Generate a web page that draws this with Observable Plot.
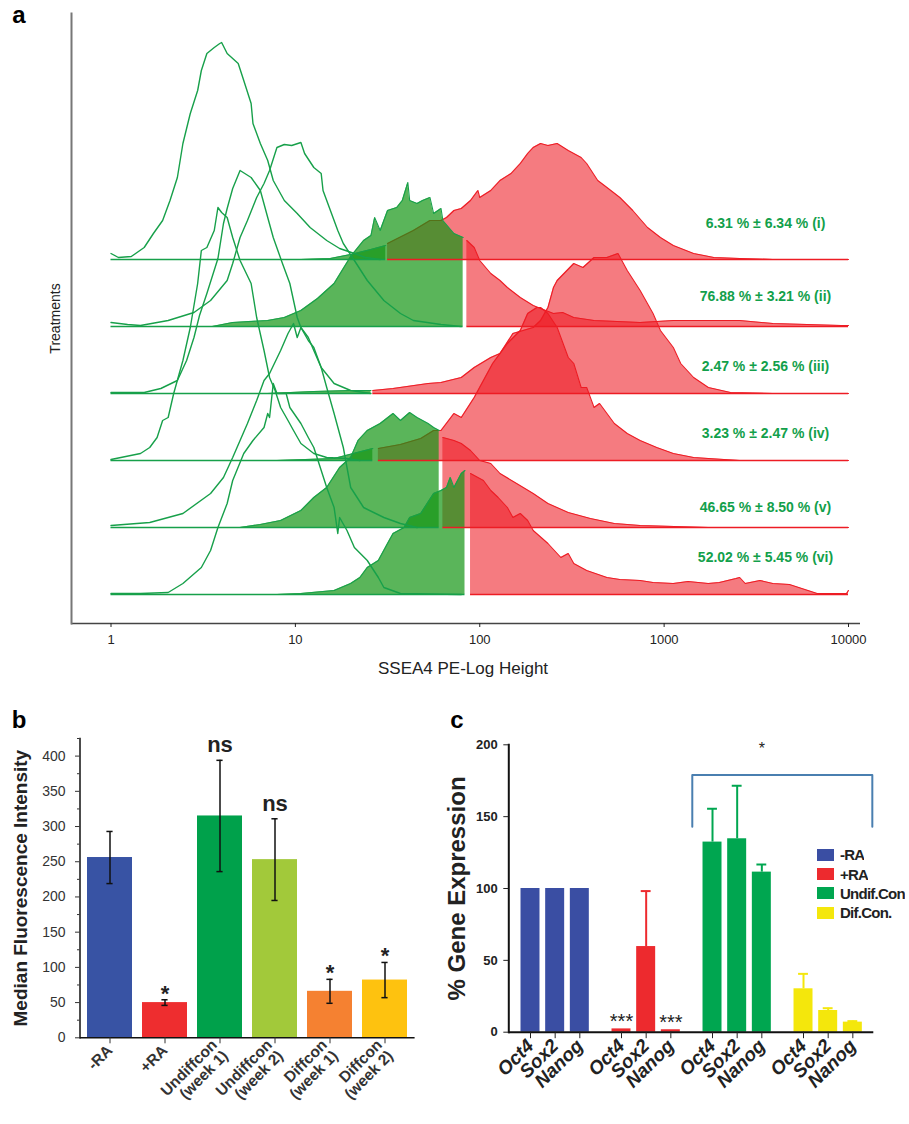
<!DOCTYPE html>
<html><head><meta charset="utf-8">
<script src="https://cdn.jsdelivr.net/npm/d3@7"></script>
<script src="https://cdn.jsdelivr.net/npm/@observablehq/plot@0.6"></script>
<style>
body{margin:0;background:#fff;}
#fig{position:relative;width:909px;height:1124px;background:#fff;overflow:hidden;font-family:Arial,"Liberation Sans",sans-serif;}
#fig > svg, #fig > div{position:absolute;}
#fig .lgc-swatch{font-weight:bold;color:#222;height:19.4px;margin:0;padding:0;}
#fig .lgc-swatch > svg{margin-right:6px !important;}
</style></head><body><div id="fig"></div>
<script>
// ---------------- Panel a: SSEA4 flow histograms (x = log10 intensity, y = events) ----------------
const xTicksA = [1, 10, 100, 1000, 10000];
const rowNames = ["(i)", "(ii)", "(iii)", "(iv)", "(v)", "(vi)"];
const pctText = ["6.31 % ± 6.34 %", "76.88 % ± 3.21 %", "2.47 % ± 2.56 %", "3.23 % ± 2.47 %", "46.65 % ± 8.50 %", "52.02 % ± 5.45 %"];

// control (unstained) histograms, [log10 intensity, events]
const ctrlI = [[0.00,6],[0.04,2],[0.11,3],[0.18,12],[0.23,26],[0.28,39],[0.32,59],[0.36,82],[0.39,116],[0.43,146],[0.47,169],[0.49,189],[0.52,206],[0.56,212],[0.59,216],[0.60,217],[0.63,206],[0.69,196],[0.72,179],[0.76,156],[0.77,136],[0.81,116],[0.85,99],[0.88,79],[0.94,59],[1.01,46],[1.08,32],[1.17,19],[1.24,11],[1.32,6],[1.38,2],[1.46,0]];
const ctrlII = [[0.00,4],[0.09,2],[0.16,1],[0.31,6],[0.45,14],[0.54,26],[0.63,46],[0.66,63],[0.70,89],[0.74,106],[0.79,129],[0.83,143],[0.86,156],[0.90,179],[0.94,182],[0.98,181],[1.03,184],[1.05,173],[1.10,159],[1.14,153],[1.15,136],[1.19,116],[1.23,96],[1.26,83],[1.32,66],[1.39,46],[1.48,26],[1.57,13],[1.64,6],[1.79,2],[1.90,0]];
const ctrlIII = [[0.00,1],[0.18,1],[0.27,5],[0.36,13],[0.41,33],[0.45,56],[0.48,78],[0.52,100],[0.58,135],[0.61,170],[0.63,185],[0.66,205],[0.70,223],[0.76,216],[0.81,203],[0.85,176],[0.88,156],[0.93,130],[0.97,110],[1.01,76],[1.03,66],[1.07,56],[1.10,43],[1.14,26],[1.21,10],[1.30,3],[1.41,0]];
const ctrlIV = [[0.00,1],[0.16,7],[0.21,13],[0.25,23],[0.28,40],[0.31,43],[0.34,67],[0.39,100],[0.43,133],[0.47,177],[0.49,210],[0.52,213],[0.56,230],[0.58,253],[0.60,248],[0.63,243],[0.66,223],[0.70,200],[0.76,177],[0.79,143],[0.83,110],[0.86,83],[0.89,70],[0.92,53],[0.96,40],[0.99,30],[1.03,17],[1.10,7],[1.17,3],[1.28,2],[1.35,0]];
const ctrlV = [[0.00,2],[0.21,5],[0.39,14],[0.54,34],[0.61,50],[0.66,70],[0.70,87],[0.74,104],[0.79,127],[0.83,147],[0.86,154],[0.92,177],[0.96,194],[0.99,204],[1.01,190],[1.03,200],[1.07,187],[1.10,180],[1.14,160],[1.17,140],[1.21,114],[1.26,80],[1.30,40],[1.37,20],[1.48,10],[1.57,4],[1.66,0]];
const ctrlVI = [[0.00,1],[0.16,1],[0.31,2],[0.39,11],[0.49,27],[0.54,44],[0.58,67],[0.63,91],[0.66,114],[0.72,141],[0.77,154],[0.83,167],[0.85,181],[0.86,177],[0.88,211],[0.90,201],[0.95,201],[0.97,187],[1.03,171],[1.07,157],[1.10,147],[1.17,107],[1.21,87],[1.23,61],[1.24,77],[1.28,64],[1.32,47],[1.39,34],[1.45,17],[1.48,7],[1.57,1],[1.90,0]];

// stained samples: SSEA4-negative part (green) and SSEA4-positive part (red)
const greenI = [[1.03,0],[1.19,1],[1.30,5],[1.41,10],[1.49,14]];
const redI = [[1.50,16],[1.64,29],[1.73,39],[1.79,39],[1.82,42],[1.86,49],[1.90,51],[1.95,59],[1.99,69],[2.00,62],[2.06,69],[2.11,79],[2.17,86],[2.22,96],[2.26,106],[2.29,112],[2.33,116],[2.37,114],[2.42,116],[2.48,109],[2.55,102],[2.58,96],[2.64,79],[2.69,72],[2.76,62],[2.83,49],[2.91,32],[2.98,22],[3.05,14],[3.16,6],[3.27,2],[3.41,1],[3.59,0],[4.00,0]];
const greenII = [[0.55,0],[0.66,4],[0.85,6],[0.94,9],[1.03,16],[1.12,28],[1.21,43],[1.30,70],[1.37,86],[1.41,91],[1.43,109],[1.46,96],[1.50,116],[1.55,119],[1.58,126],[1.61,144],[1.62,126],[1.66,123],[1.69,126],[1.73,129],[1.75,113],[1.79,118],[1.80,106],[1.86,93],[1.91,89]];
const redII = [[1.93,86],[1.97,79],[2.00,66],[2.06,53],[2.11,46],[2.15,39],[2.22,29],[2.29,21],[2.33,18],[2.40,13],[2.45,14],[2.51,9],[2.62,6],[2.87,4],[3.05,6],[3.41,6],[3.59,3],[3.96,1],[4.00,1]];
const greenIII = [[0.85,0],[1.10,2],[1.30,3],[1.41,3]];
const redIII = [[1.42,3],[1.53,5],[1.72,10],[1.79,11],[1.90,16],[1.97,26],[2.06,36],[2.11,40],[2.18,60],[2.29,66],[2.33,73],[2.37,86],[2.40,106],[2.42,113],[2.51,130],[2.56,126],[2.62,136],[2.69,136],[2.75,140],[2.80,123],[2.87,103],[2.94,80],[2.98,63],[3.05,46],[3.09,30],[3.16,16],[3.24,6],[3.36,1],[3.59,0],[4.00,0]];
const greenIV = [[0.90,0],[1.21,2],[1.42,12]];
const redIV = [[1.45,12],[1.57,16],[1.68,22],[1.75,30],[1.79,30],[1.86,47],[1.90,43],[1.97,63],[2.02,80],[2.07,97],[2.15,117],[2.22,130],[2.26,147],[2.31,153],[2.33,153],[2.37,147],[2.42,133],[2.48,103],[2.51,97],[2.55,73],[2.58,73],[2.62,53],[2.65,57],[2.73,37],[2.80,27],[2.87,20],[2.96,13],[3.05,7],[3.16,3],[3.24,2],[3.41,0],[4.00,0]];
const greenV = [[0.70,0],[0.81,3],[0.92,7],[1.03,17],[1.10,30],[1.17,40],[1.24,60],[1.30,70],[1.34,87],[1.39,97],[1.46,104],[1.53,114],[1.57,107],[1.62,115],[1.66,110],[1.72,104],[1.75,100],[1.78,97]];
const redV = [[1.80,90],[1.86,87],[1.90,84],[1.95,77],[2.00,67],[2.06,64],[2.11,54],[2.20,44],[2.29,34],[2.37,24],[2.48,15],[2.60,9],[2.73,4],[2.87,2],[3.24,0],[4.00,0]];
const greenVI = [[0.90,0],[1.03,1],[1.21,4],[1.30,11],[1.35,17],[1.39,27],[1.45,34],[1.50,51],[1.53,61],[1.59,67],[1.62,77],[1.68,81],[1.75,101],[1.79,104],[1.82,107],[1.84,117],[1.86,107],[1.90,121],[1.92,124]];
const redVI = [[1.95,121],[1.99,117],[2.02,114],[2.06,104],[2.10,97],[2.15,87],[2.18,77],[2.22,81],[2.26,74],[2.29,64],[2.37,51],[2.44,37],[2.48,41],[2.51,31],[2.58,24],[2.69,17],[2.76,15],[2.87,14],[2.94,12],[3.05,11],[3.13,13],[3.24,11],[3.30,12],[3.39,16],[3.41,17],[3.44,11],[3.52,14],[3.59,11],[3.68,10],[3.78,4],[3.83,1],[3.99,1],[4.00,4]];

// ---------------- Panel b: median fluorescence intensity ----------------
const bCats = ["-RA", "+RA", "Undiffcon\n(week 1)", "Undiffcon\n(week 2)", "Diffcon\n(week 1)", "Diffcon\n(week 2)"];
const bValues = [256, 50, 315, 253, 66, 82];
const bErrors = [37, 4, 79, 58, 17, 25];
const bSignif = ["", "*", "ns", "ns", "*", "*"];
const bColors = ["#3853a4", "#ee2d2f", "#00a14b", "#a2c93a", "#f58131", "#fec20f"];
const bTicks = [0, 50, 100, 150, 200, 250, 300, 350, 400];
const bMinorTicks = [25, 75, 125, 175, 225, 275, 325, 375, 425];

// ---------------- Panel c: % gene expression ----------------
const cGroups = ["-RA", "+RA", "Undif.Con", "Dif.Con."];
const cGenes = ["Oct4", "Sox2", "Nanog"];
const cMinusRA = [100, 100, 100];
const cPlusRA = [2.3, 59.6, 1.7];
const cUndif = [132.3, 134.6, 111.4];
const cDif = [30.2, 15.1, 7.0];
const cErrMinusRA = [0, 0, 0];
const cErrPlusRA = [0, 38.6, 0];
const cErrUndif = [23.2, 36.9, 5.3];
const cErrDif = [10.4, 1.6, 0.7];
const cColors = ["#3a4ea3", "#ed2a2e", "#00a650", "#f4e70c"];
const cTicks = [0, 50, 100, 150, 200];
const cStars = [{group: "+RA", gene: "Oct4", text: "***"}, {group: "+RA", gene: "Nanog", text: "***"}];
const cBracket = {from: ["Undif.Con", "Oct4"], to: ["Dif.Con.", "Nanog"], low: 143, high: 179, text: "*"};

// ================= drawing =================
const fig = document.getElementById("fig");
const FONT = 'Arial, "Liberation Sans", sans-serif';

// ---- panel a ----
const ROW_STEP = 67, FIRST_BASE = 29;               // layout of the stacked rows
const LABEL_LIFT = [36, 30, 27, 27, 20, 37];
const base = k => FIRST_BASE + (5 - k) * ROW_STEP;
const ctrls = [ctrlI, ctrlII, ctrlIII, ctrlIV, ctrlV, ctrlVI];
const greens = [greenI, greenII, greenIII, greenIV, greenV, greenVI];
const reds = [redI, redII, redIII, redIV, redV, redVI];
const toPts = (arr, k) => arr.map(([lg, h]) => ({row: k, x: 10 ** lg, y1: base(k), y2: base(k) + h}));
const ctrlPts = ctrls.flatMap(toPts);
const greenPts = greens.flatMap(toPts);
const redPts = reds.flatMap(toPts);
const rowsA = rowNames.map((r, k) => ({k, y: base(k), gEnd: 10 ** greens[k].at(-1)[0], rStart: 10 ** reds[k][0][0]}));

const RED = "#ed1c24", GREEN_FILL = "rgb(20,150,20)", GREEN_LINE = "#17a04a";
const plotA = Plot.plot({
  width: 909, height: 690,
  marginTop: 13, marginBottom: 67, marginLeft: 71, marginRight: 49,
  x: {type: "log", domain: [1, 10000], range: [110.5, 848], axis: null},
  y: {domain: [0, 610], axis: null},
  style: {fontFamily: FONT, background: "transparent", overflow: "visible"},
  marks: [
    Plot.areaY(redPts, {x: "x", y1: "y1", y2: "y2", z: "row", fill: RED, fillOpacity: 0.58}),
    Plot.line(redPts, {x: "x", y: "y2", z: "row", stroke: RED, strokeWidth: 1.1}),
    Plot.areaY(greenPts, {x: "x", y1: "y1", y2: "y2", z: "row", fill: GREEN_FILL, fillOpacity: 0.7}),
    Plot.line(greenPts, {x: "x", y: "y2", z: "row", stroke: GREEN_LINE, strokeWidth: 1.1}),
    Plot.ruleY(rowsA, {y: "y", x1: () => 1, x2: "gEnd", stroke: GREEN_LINE, strokeWidth: 1.5}),
    Plot.ruleY(rowsA, {y: "y", x1: "rStart", x2: () => 10000, stroke: RED, strokeWidth: 1.5}),
    Plot.line(ctrlPts, {x: "x", y: "y2", z: "row", stroke: GREEN_LINE, strokeWidth: 1.4}),
    Plot.text(rowsA, {y: d => d.y + LABEL_LIFT[d.k], text: d => pctText[d.k] + " " + rowNames[d.k],
      frameAnchor: "right", dx: -95, textAnchor: "middle", lineAnchor: "middle",
      fontWeight: "bold", fontSize: 14, fill: "#12a04b", ariaLabel: "pct-labels"}),
    Plot.ruleY([0], {stroke: "#444", strokeWidth: 1.5}),
    Plot.frame({anchor: "left", stroke: "#777", strokeWidth: 2}),
    Plot.axisX({ticks: xTicksA, tickFormat: d => String(d), tickSize: 4, tickPadding: 7, fontSize: 13, color: "#222", label: null}),
    Plot.text(["SSEA4 PE-Log Height"], {text: d => d, frameAnchor: "bottom", textAnchor: "middle", dx: -3, dy: 45, fontSize: 17, lineAnchor: "middle", fill: "#222"}),
    Plot.text(["Treatments"], {text: d => d, frameAnchor: "left", textAnchor: "middle", rotate: -90, dx: -16, fontSize: 14, lineAnchor: "middle", fill: "#222"}),
    Plot.text(["a"], {text: d => d, frameAnchor: "top-left", textAnchor: "middle", dx: -52.5, dy: 2, fontSize: 24, fontWeight: "bold", lineAnchor: "middle"})
  ]
});
plotA.style.left = "0px"; plotA.style.top = "0px";
plotA.querySelectorAll('g[aria-label="pct-labels"] text').forEach((t, i) => {
  t.textContent = "";
  const ns = "http://www.w3.org/2000/svg";
  const a = document.createElementNS(ns, "tspan"); a.textContent = pctText[i] + " "; a.setAttribute("fill", "#12a04b");
  const b = document.createElementNS(ns, "tspan"); b.textContent = rowNames[i]; b.setAttribute("fill", "#3c3c3c");
  t.appendChild(a); t.appendChild(b);
});
fig.appendChild(plotA);

// ---- panel b ----
const bData = bCats.map((c, i) => ({cat: c, value: bValues[i], err: bErrors[i], sig: bSignif[i]}));
const plotB = Plot.plot({
  width: 440, height: 444,
  marginTop: 58, marginBottom: 86.7, marginLeft: 79.5, marginRight: 25.4,
  x: {domain: bCats, paddingInner: 0.18, paddingOuter: 0.09, axis: null},
  y: {domain: [0, 425], axis: null},
  color: {domain: bCats, range: bColors},
  style: {fontFamily: FONT, background: "transparent", overflow: "visible"},
  marks: [
    Plot.barY(bData, {x: "cat", y: "value", fill: "cat"}),
    Plot.ruleX(bData, {x: "cat", y1: d => d.value - d.err, y2: d => d.value + d.err, stroke: "#111", strokeWidth: 1.5}),
    Plot.tickY(bData, {x: "cat", y: d => d.value + d.err, insetLeft: 19.4, insetRight: 19.4, stroke: "#111", strokeWidth: 1.5}),
    Plot.tickY(bData, {x: "cat", y: d => d.value - d.err, insetLeft: 19.4, insetRight: 19.4, stroke: "#111", strokeWidth: 1.5}),
    Plot.text(bData.filter(d => d.sig === "*"), {x: "cat", y: d => d.value + d.err, text: "sig", dy: -6, fontSize: 22, fontWeight: "bold", lineAnchor: "middle", fill: "#222"}),
    Plot.text(bData.filter(d => d.sig === "ns"), {x: "cat", y: d => d.value + d.err, text: "sig", dy: -15, fontSize: 22, fontWeight: "bold", lineAnchor: "middle", fill: "#222"}),
    Plot.ruleY([0], {stroke: "#111", strokeWidth: 1.5}),
    Plot.frame({anchor: "left", stroke: "#111", strokeWidth: 1.5}),
    Plot.axisY({ticks: bTicks, tickSize: 4.5, tickPadding: 10, fontSize: 14, color: "#333", label: null}),
    Plot.axisY({ticks: bMinorTicks, tickSize: 2.5, fill: "none", stroke: "#333", label: null}),
    Plot.axisX({tickRotate: -45, tickSize: 6, tickPadding: 4, fontSize: 15.5, fontWeight: "bold", color: "#333", label: null}),
    Plot.text(["Median Fluorescence Intensity"], {text: d => d, frameAnchor: "left", textAnchor: "middle", rotate: -90, dx: -59.5, fontSize: 19, fontWeight: "bold", lineAnchor: "middle", fill: "#222"}),
    Plot.text(["b"], {text: d => d, frameAnchor: "top-left", textAnchor: "middle", dx: -61, dy: -18.5, fontSize: 24, fontWeight: "bold", lineAnchor: "middle"})
  ]
});
plotB.style.left = "0px"; plotB.style.top = "680px";
fig.appendChild(plotB);

// ---- panel c ----
const GROUP_STEP = 3.69, BAR_HALF = 0.385, CAP_HALF = 0.2;    // layout (in bar-slot units)
const cVals = [cMinusRA, cPlusRA, cUndif, cDif];
const cErrs = [cErrMinusRA, cErrPlusRA, cErrUndif, cErrDif];
const cData = cGroups.flatMap((g, gi) => cGenes.map((gene, i) => ({
  group: g, gene, pos: gi * GROUP_STEP + i, value: cVals[gi][i], err: cErrs[gi][i]})));
const posOf = (g, gene) => cData.find(d => d.group === g && d.gene === gene).pos;
const valOf = (g, gene) => cData.find(d => d.group === g && d.gene === gene).value;
const geneAt = new Map(cData.map(d => [d.pos, d.gene]));
const cErrData = cData.filter(d => d.err > 0);
const bx1 = posOf(...cBracket.from) - 0.82, bx2 = posOf(...cBracket.to) + 0.79;
const bracketPath = [{x: bx1, y: cBracket.low}, {x: bx1, y: cBracket.high}, {x: bx2, y: cBracket.high}, {x: bx2, y: cBracket.low}];

const plotC = Plot.plot({
  width: 469, height: 444,
  marginTop: 64.3, marginBottom: 92.3, marginLeft: 68.3, marginRight: 35.7,
  x: {domain: [-0.88, 13.92], axis: null},
  y: {domain: [0, 200], axis: null},
  color: {domain: cGroups, range: cColors},
  style: {fontFamily: FONT, background: "transparent", overflow: "visible"},
  marks: [
    Plot.rectY(cData, {x1: d => d.pos - BAR_HALF, x2: d => d.pos + BAR_HALF, y: "value", fill: "group"}),
    Plot.ruleX(cErrData, {x: "pos", y1: "value", y2: d => d.value + d.err, stroke: "group", strokeWidth: 2}),
    Plot.ruleY(cErrData, {y: d => d.value + d.err, x1: d => d.pos - CAP_HALF, x2: d => d.pos + CAP_HALF, stroke: "group", strokeWidth: 2}),
    Plot.text(cStars, {x: d => posOf(d.group, d.gene), y: d => valOf(d.group, d.gene), text: "text", dy: -7, fontSize: 20, lineAnchor: "middle", fill: "#222"}),
    Plot.line(bracketPath, {x: "x", y: "y", stroke: "#4a7fb0", strokeWidth: 2}),
    Plot.text([cBracket], {x: () => posOf("Undif.Con", "Nanog"), y: () => 200, text: "text", dy: 4, fontSize: 16, lineAnchor: "middle", fill: "#222"}),
    Plot.ruleY([0], {stroke: "#111", strokeWidth: 2}),
    Plot.frame({anchor: "left", stroke: "#111", strokeWidth: 2}),
    Plot.axisY({ticks: cTicks, tickSize: 5, tickPadding: 6, fontSize: 13, fontWeight: "bold", color: "#222", label: null}),
    Plot.axisX({ticks: cData.map(d => d.pos), tickFormat: p => geneAt.get(p), tickRotate: -45, tickSize: 6.5, tickPadding: 4,
      fontSize: 19, fontWeight: "bold", fontStyle: "italic", color: "#222", label: null}),
    Plot.text(["% Gene Expression"], {text: d => d, frameAnchor: "left", textAnchor: "middle", rotate: -90, dx: -51.6, fontSize: 24, fontWeight: "bold", lineAnchor: "middle", fill: "#222"}),
    Plot.text(["c"], {text: d => d, frameAnchor: "top-left", textAnchor: "middle", dx: -52, dy: -24.5, fontSize: 24, fontWeight: "bold", lineAnchor: "middle"})
  ]
});
plotC.style.left = "440px"; plotC.style.top = "680px";
fig.appendChild(plotC);

// legend for panel c
function hasFont(name) {
  const c = document.createElement("canvas").getContext("2d");
  c.font = "bold 20px monospace"; const w0 = c.measureText("Undif.Con Wmi").width;
  c.font = `bold 20px "${name}", monospace`; return c.measureText("Undif.Con Wmi").width !== w0;
}
const narrow = hasFont("Liberation Sans Narrow");
const legend = Plot.legend({color: {domain: cGroups, range: cColors}, legend: "swatches", columns: 1,
  swatchWidth: 17, swatchHeight: 12, className: "lgc"});
legend.style.left = "817px"; legend.style.top = "845px";
legend.style.fontFamily = narrow ? '"Liberation Sans Narrow", Arial, sans-serif' : FONT;
legend.style.fontSize = narrow ? "18px" : "15px";
legend.style.letterSpacing = narrow ? "0px" : "-0.75px";
legend.style.margin = "0";
fig.appendChild(legend);
legend.querySelectorAll(".lgc-swatch").forEach(s => {
  s.style.fontFamily = legend.style.fontFamily; s.style.fontSize = legend.style.fontSize;
  s.style.letterSpacing = legend.style.letterSpacing;
});
</script></body></html>
